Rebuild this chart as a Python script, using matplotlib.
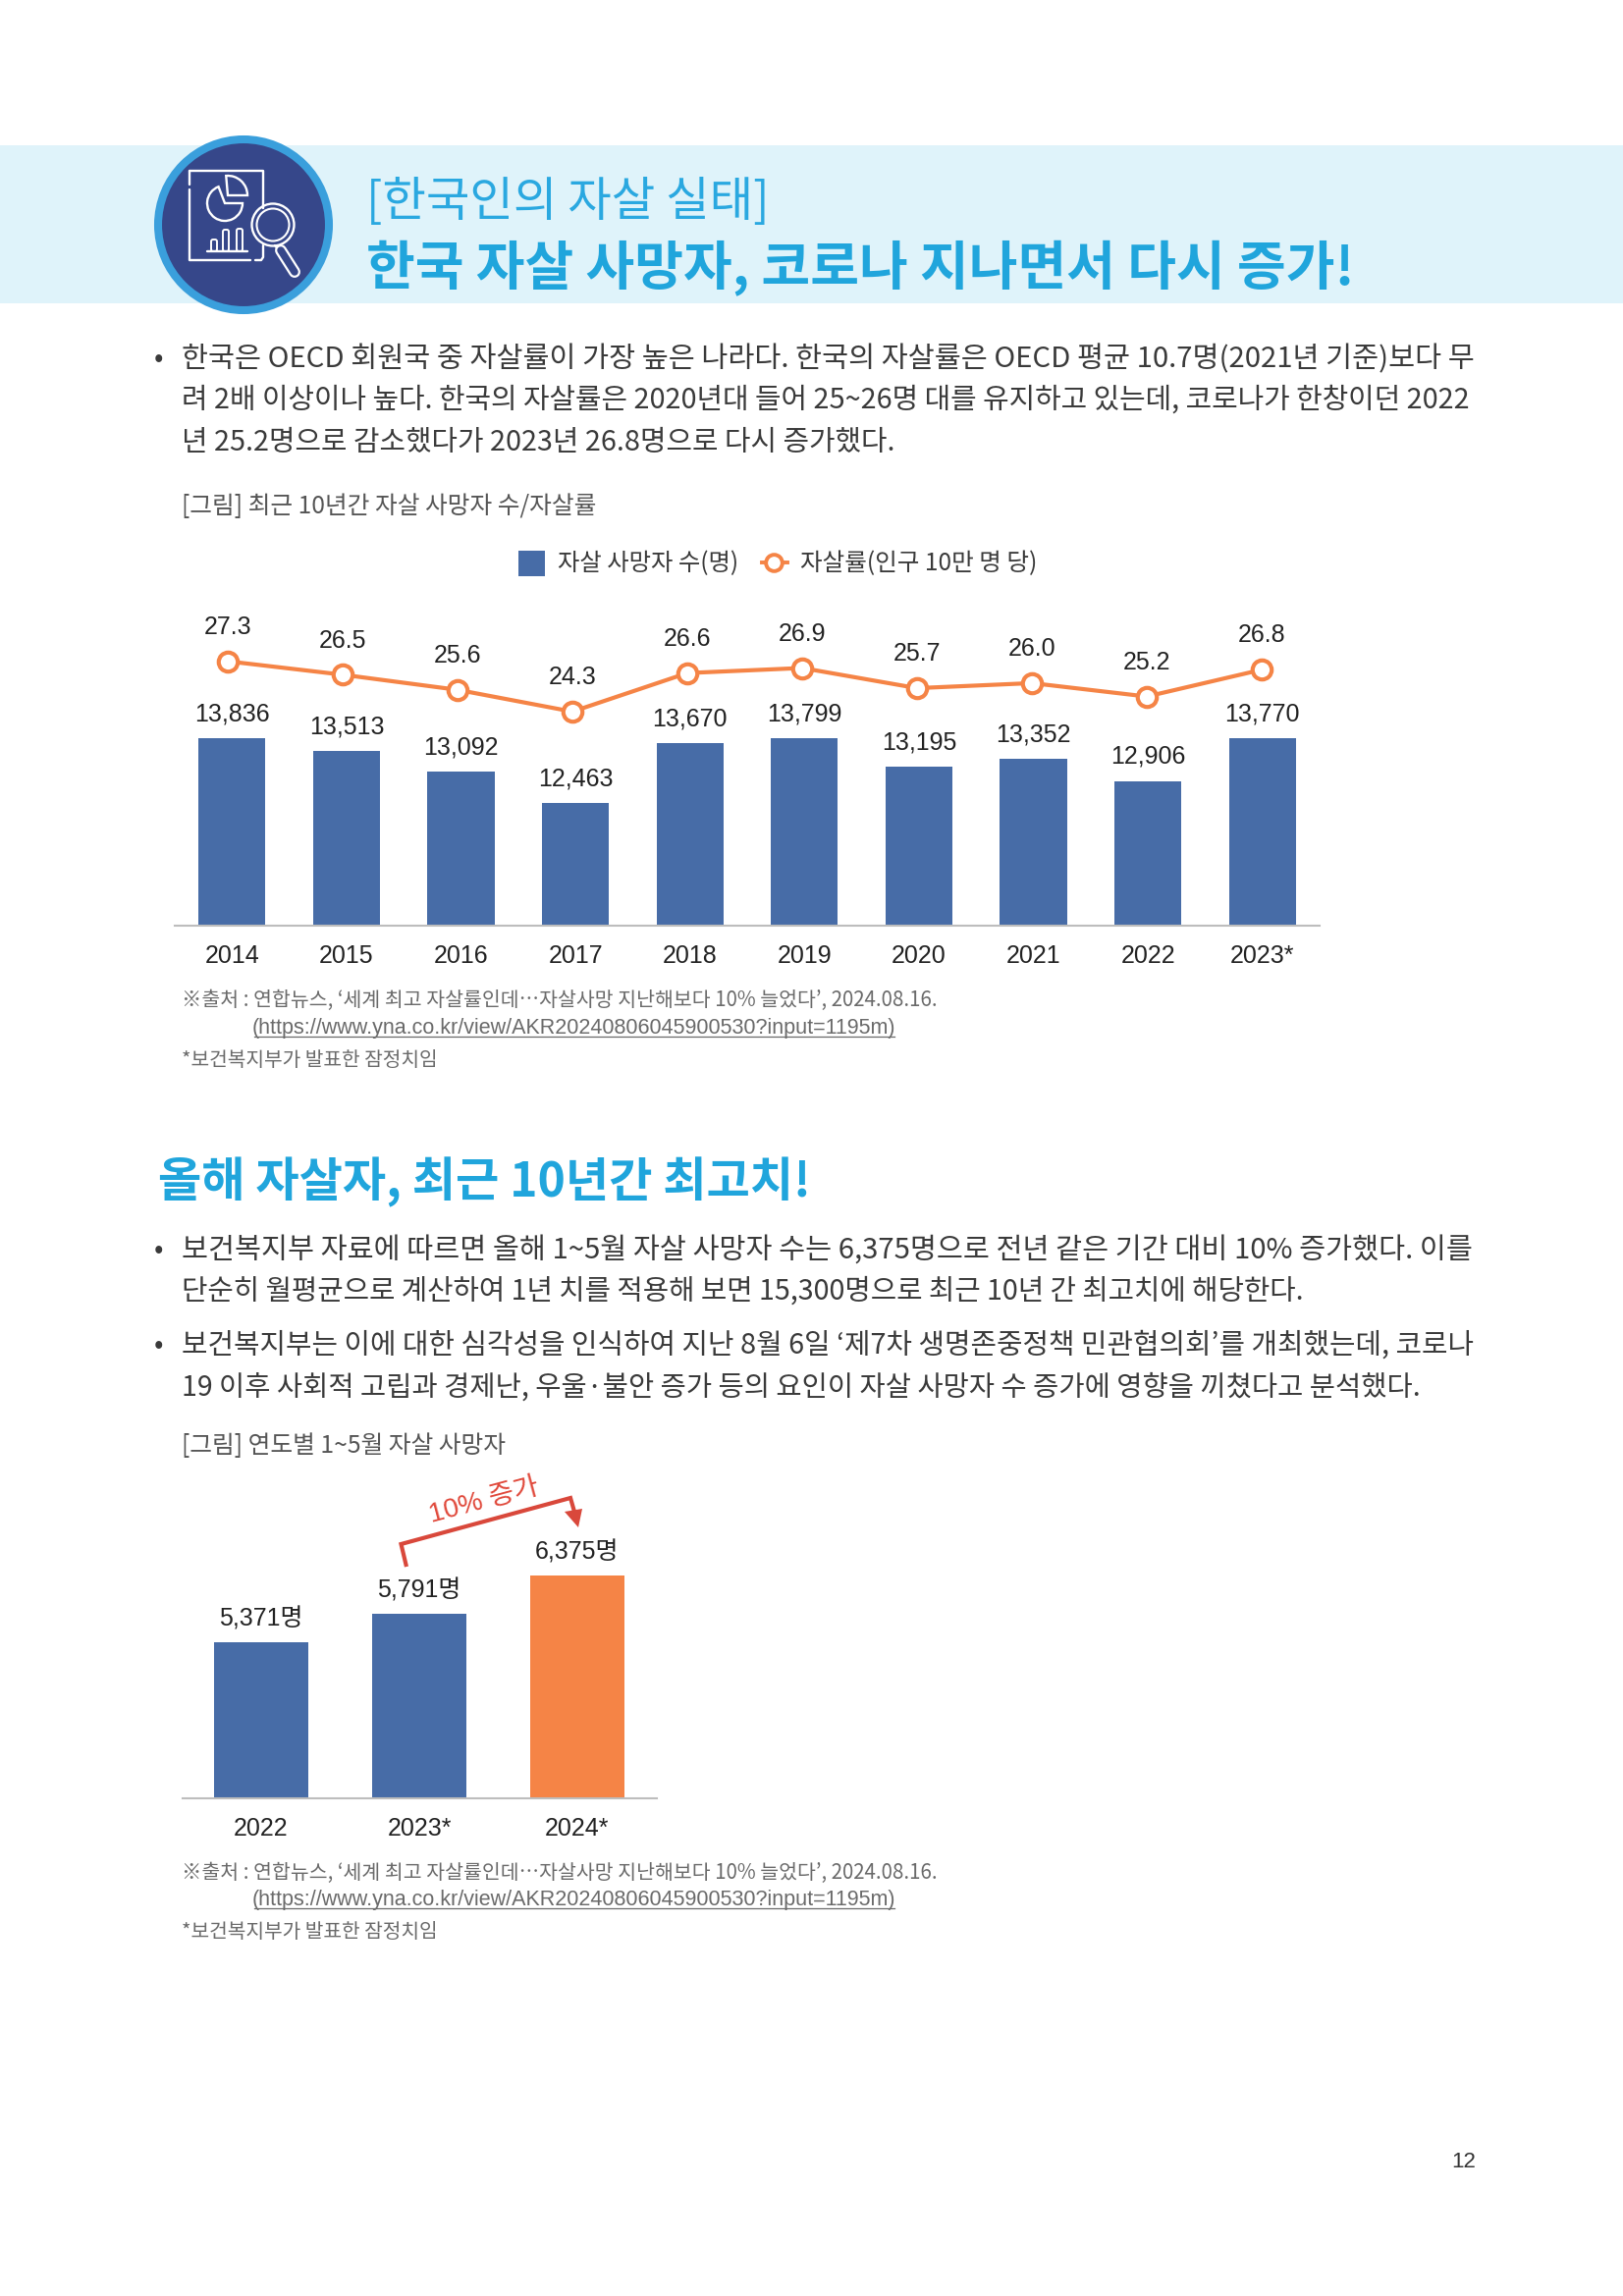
#!/usr/bin/env python3
# -*- coding: utf-8 -*-
import matplotlib
matplotlib.use('Agg')
import matplotlib.pyplot as plt
from matplotlib.patches import Circle, Rectangle, Wedge, FancyBboxPatch

plt.rcParams['font.family'] = ['Noto Sans CJK KR', 'DejaVu Sans']

W, H = 1653, 2339
KR = ['Noto Sans CJK KR', 'DejaVu Sans']
NUM = ['Liberation Sans', 'Noto Sans CJK KR']

BLUE = '#476ca7'
ORANGE = '#f58446'
SKY = '#20a5dc'
BODY = '#3a3a3a'
NOTE = '#6a6a6a'
NAVY = '#36478a'

# 그림 1
years = ['2014', '2015', '2016', '2017', '2018', '2019', '2020', '2021', '2022', '2023*']
deaths = [13836, 13513, 13092, 12463, 13670, 13799, 13195, 13352, 12906, 13770]
rates = [27.3, 26.5, 25.6, 24.3, 26.6, 26.9, 25.7, 26.0, 25.2, 26.8]

# 그림 2
years2 = ['2022', '2023*', '2024*']
deaths2 = [5371, 5791, 6375]
colors2 = [BLUE, BLUE, ORANGE]

para1 = [
    '한국은 OECD 회원국 중 자살률이 가장 높은 나라다. 한국의 자살률은 OECD 평균 10.7명(2021년 기준)보다 무',
    '려 2배 이상이나 높다. 한국의 자살률은 2020년대 들어 25~26명 대를 유지하고 있는데, 코로나가 한창이던 2022',
    '년 25.2명으로 감소했다가 2023년 26.8명으로 다시 증가했다.',
]
para2 = [
    '보건복지부 자료에 따르면 올해 1~5월 자살 사망자 수는 6,375명으로 전년 같은 기간 대비 10% 증가했다. 이를',
    '단순히 월평균으로 계산하여 1년 치를 적용해 보면 15,300명으로 최근 10년 간 최고치에 해당한다.',
]
para3 = [
    '보건복지부는 이에 대한 심각성을 인식하여 지난 8월 6일 ‘제7차 생명존중정책 민관협의회’를 개최했는데, 코로나',
    '19 이후 사회적 고립과 경제난, 우울·불안 증가 등의 요인이 자살 사망자 수 증가에 영향을 끼쳤다고 분석했다.',
]
source = '※출처 : 연합뉴스, ‘세계 최고 자살률인데…자살사망 지난해보다 10% 늘었다’, 2024.08.16.'
url = '(https://www.yna.co.kr/view/AKR20240806045900530?input=1195m)'
note = '*보건복지부가 발표한 잠정치임'

fig = plt.figure(figsize=(W / 100, H / 100), dpi=100, facecolor='white')

# 페이지 전체를 픽셀 좌표로 쓰는 바탕 축
page = fig.add_axes([0, 0, 1, 1])
page.set_xlim(0, W)
page.set_ylim(H, 0)
page.axis('off')


def axes_px(x0, y0, x1, y1):
    ax = fig.add_axes([x0 / W, 1 - y1 / H, (x1 - x0) / W, (y1 - y0) / H])
    ax.patch.set_alpha(0)
    return ax


def put(x, y, s, right=None, size=20, color=BODY, **kw):
    """right를 주면 그 위치까지 오도록 글자 크기를 맞춘다"""
    t = page.text(x, y + 3, s, fontsize=size, color=color, va='center', **kw)
    if right is not None:
        r = fig.canvas.get_renderer()
        w = t.get_window_extent(r).width
        t.set_fontsize(size * (right - x) / w)
    return t


# 상단 띠와 아이콘
page.add_patch(Rectangle((0, 148), W, 161, fc='#dff3fa', ec='none'))
page.add_patch(Circle((248, 229), 87, fc=NAVY, ec='#3a9fdc', lw=5.8))
ICON = dict(color='white', lw=1.7, solid_capstyle='round')
page.plot([193, 193], [174, 188], **ICON)
page.plot([193, 193, 255], [193, 265, 265], **ICON)
page.plot([193, 268, 268], [174, 174, 212], **ICON)
page.plot([260, 266, 268, 268], [265, 265, 262, 250], **ICON)
page.add_patch(Wedge((229, 207), 18, 0, 249, fc='none', ec='white', lw=1.7))
page.add_patch(Wedge((232, 199), 20, 265, 360, fc='none', ec='white', lw=1.7))
for bx, bw, top in zip([215, 227, 241], [6, 6, 6], [244, 234, 233]):
    page.add_patch(FancyBboxPatch((bx, top), bw, 256 - top, boxstyle='round,pad=0,rounding_size=2',
                                  fc='none', ec='white', lw=1.4))
page.plot([211, 252], [256, 256], **ICON)
page.add_patch(Circle((278, 229), 21.5, fc=NAVY, ec='white', lw=1.7))
page.add_patch(Circle((278, 229), 16.5, fc='none', ec='white', lw=1.5))
page.plot([280, 284], [250, 255], **ICON)
page.plot([286, 300], [255, 277], color='white', lw=8.6, solid_capstyle='round')
page.plot([286, 300], [255, 277], color=NAVY, lw=5.4, solid_capstyle='round')

put(373, 203, '[한국인의 자살 실태]', right=783, color='#2aa8e0', fontweight='light')
put(373, 271, '한국 자살 사망자, 코로나 지나면서 다시 증가!', right=1377, color=SKY, fontweight='bold')

# 본문 1
put(157, 363, '•', size=20)
for y, line, r in zip([363, 405, 448], para1, [1498, 1497, 909]):
    put(185, y, line, right=r)

put(185, 513, '[그림] 최근 10년간 자살 사망자 수/자살률', right=607, color='#555555')

# 범례
page.add_patch(Rectangle((528, 561), 27, 26, fc=BLUE, ec='none'))
put(568, 571, '자살 사망자 수(명)', right=752)
page.plot([776, 802], [573, 573], color=ORANGE, lw=2.8)
page.plot([788], [573], 'o', ms=12, mfc='white', mec=ORANGE, mew=2.8)
put(815, 571, '자살률(인구 10만 명 당)', right=1056)

# 그림 1: 막대
ax1 = axes_px(178, 752, 1344, 943)
ax1.bar(range(len(years)), deaths, width=0.585, color=BLUE)
ax1.set_xlim(-0.5, 9.5)
ax1.set_ylim(10000, 13770)
ax1.set_yticks([])
ax1.set_xticks(range(len(years)))
ax1.set_xticklabels(years, fontsize=18, family=NUM, color='#222222')
ax1.tick_params(axis='x', length=0, pad=14)
for s in ['top', 'left', 'right']:
    ax1.spines[s].set_visible(False)
ax1.spines['bottom'].set_color('#bdbdbd')
ax1.spines['bottom'].set_linewidth(1.5)
for i, v in enumerate(deaths):
    ax1.annotate(f'{v:,}', (i, min(v, 13770)), xytext=(0, 18), textcoords='offset points',
                 ha='center', va='center', fontsize=18, family=NUM, color='#222222')

# 그림 1: 자살률 꺾은선
ax1b = axes_px(173.5, 660, 1343.5, 740)
ax1b.plot(range(len(rates)), rates, color=ORANGE, lw=3, marker='o', ms=14,
          mfc='white', mec=ORANGE, mew=3)
ax1b.set_xlim(-0.5, 9.5)
ax1b.set_ylim(23.42, 28.1)
ax1b.axis('off')
for i, v in enumerate(rates):
    ax1b.annotate(f'{v:.1f}', (i, v), xytext=(0, 25), textcoords='offset points',
                  ha='center', va='center', fontsize=18, family=NUM, color='#222222',
                  annotation_clip=False)

# 출처 1
put(185, 1016, source, right=953, color=NOTE)
put(257, 1045, url, right=913, color=NOTE, family=NUM)
page.plot([259, 911], [1056, 1056], color=NOTE, lw=0.9)
put(185, 1077, note, right=446, color=NOTE)

# 소제목과 본문 2
put(161, 1201, '올해 자살자, 최근 10년간 최고치!', right=825, color=SKY, fontweight='bold')
put(157, 1271, '•', size=20)
for y, line, r in zip([1271, 1313], para2, [1497, 1328]):
    put(185, y, line, right=r)
put(157, 1368, '•', size=20)
for y, line, r in zip([1368, 1411], para3, [1497, 1443]):
    put(185, y, line, right=r)

put(185, 1470, '[그림] 연도별 1~5월 자살 사망자', right=515, color='#555555')

# 그림 2
ax2 = axes_px(185.5, 1605, 668.5, 1832)
ax2.bar(range(len(years2)), deaths2, width=0.595, color=colors2)
ax2.set_xlim(-0.5, 2.5)
ax2.set_ylim(3000, 6375)
ax2.set_yticks([])
ax2.set_xticks(range(len(years2)))
ax2.set_xticklabels(years2, fontsize=18, family=NUM, color='#222222')
ax2.tick_params(axis='x', length=0, pad=14)
for s in ['top', 'left', 'right']:
    ax2.spines[s].set_visible(False)
ax2.spines['bottom'].set_color('#bdbdbd')
ax2.spines['bottom'].set_linewidth(1.5)
for i, v in enumerate(deaths2):
    ax2.annotate(f'{v:,}명', (i, v), xytext=(0, 17), textcoords='offset points',
                 ha='center', va='center', fontsize=18, family=NUM, color='#222222',
                 annotation_clip=False)

# 증가 화살표
RED = '#d9483b'
page.plot([413.5, 408.5, 581, 585], [1594, 1573, 1526, 1540], color=RED, lw=3, solid_joinstyle='miter')
page.fill([575, 593, 589], [1540, 1537, 1556], color=RED, lw=0)
page.text(493, 1529, '10% 증가', fontsize=20, color='#e0483a', rotation=15,
          ha='center', va='center', rotation_mode='anchor', family=NUM)

# 출처 2
put(185, 1905, source, right=953, color=NOTE)
put(257, 1933, url, right=913, color=NOTE, family=NUM)
page.plot([259, 911], [1944, 1944], color=NOTE, lw=0.9)
put(185, 1965, note, right=446, color=NOTE)

put(1478, 2199, '12', size=16, color='#333333', family=NUM)

fig.savefig('out.png', dpi=100)
